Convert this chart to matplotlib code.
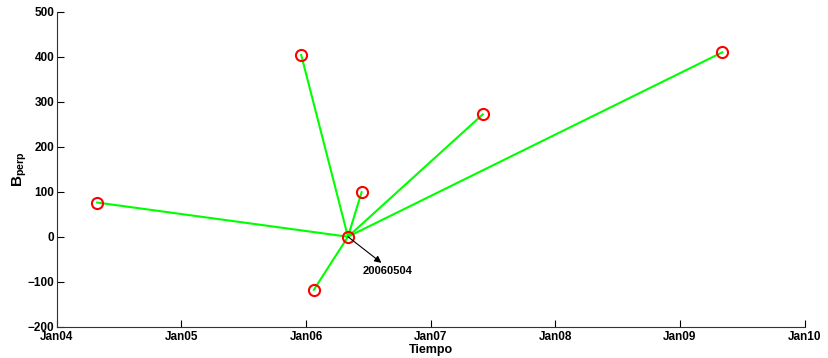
import matplotlib
matplotlib.use("Agg")
import matplotlib.pyplot as plt
import matplotlib.dates as mdates
import pandas as pd

# --- Data ---
master_date = "2006-05-04"
master_bperp = 0
master_label = "20060504"

slave_dates = ["2004-04-29", "2005-12-18", "2006-01-24", "2006-06-13", "2007-06-03", "2009-05-05"]
slave_bperp = [76, 404, -118, 99, 272, 410]

xtick_years = ["2004-01-01", "2005-01-01", "2006-01-01", "2007-01-01",
               "2008-01-01", "2009-01-01", "2010-01-01"]
yticks = [-200, -100, 0, 100, 200, 300, 400, 500]

# --- Style ---
plt.rcParams["font.family"] = ["Liberation Sans", "DejaVu Sans"]
plt.rcParams["font.weight"] = "bold"
plt.rcParams["mathtext.fontset"] = "custom"
plt.rcParams["mathtext.rm"] = "Liberation Sans:bold"
plt.rcParams["mathtext.bf"] = "Liberation Sans:bold"
plt.rcParams["mathtext.it"] = "Liberation Sans:bold"

fig = plt.figure(figsize=(8.29, 3.58), dpi=100)
ax = fig.add_axes([0.0682, 0.0874, 0.9023, 0.8796])

m_date = pd.Timestamp(master_date)
s_dates = pd.to_datetime(slave_dates)

# baselines from master to every slave
for d, b in zip(s_dates, slave_bperp):
    ax.plot([m_date, d], [master_bperp, b], color=(0, 1, 0), lw=1.5, zorder=2)

all_dates = list(s_dates) + [m_date]
all_b = slave_bperp + [master_bperp]
ax.plot(all_dates, all_b, linestyle="none", marker="o", markersize=8,
        markerfacecolor="none", markeredgecolor="red", markeredgewidth=1.5, zorder=3)

# arrow pointing away from the master image towards its label
ax.annotate("", xy=(pd.Timestamp("2006-08-10"), -58), xytext=(m_date, master_bperp),
            arrowprops=dict(arrowstyle="-|>", color="black", lw=0.8,
                            shrinkA=0, shrinkB=0, mutation_scale=10), zorder=4)
ax.text(pd.Timestamp("2006-06-17"), -76, master_label, fontsize=8,
        fontweight="bold", ha="left", va="center")

ax.set_xlim(pd.Timestamp(xtick_years[0]), pd.Timestamp(xtick_years[-1]))
ax.set_ylim(yticks[0], yticks[-1])
ax.set_xticks(pd.to_datetime(xtick_years))
ax.xaxis.set_major_formatter(mdates.DateFormatter("%b%y"))
ax.set_yticks(yticks)
ax.set_yticklabels([str(v).replace("-", "\u2212") for v in yticks])

ax.tick_params(direction="in", length=5, width=0.8, labelsize=8.5, pad=1.5)
ax.tick_params(axis="x", pad=3)
for lbl in ax.get_xticklabels() + ax.get_yticklabels():
    lbl.set_fontweight("bold")

for s in ["top", "right"]:
    ax.spines[s].set_visible(False)
for s in ["left", "bottom"]:
    ax.spines[s].set_color("#333333")
    ax.spines[s].set_linewidth(0.8)

ax.set_xlabel("Tiempo", fontsize=9, fontweight="bold")
ax.set_ylabel(r"$\mathbf{B_{perp}}$", fontsize=11)
ax.yaxis.set_label_coords(-0.037, 0.5)
ax.xaxis.set_label_coords(0.5, -0.055)

fig.savefig("out.png", dpi=100)
plt.close(fig)
